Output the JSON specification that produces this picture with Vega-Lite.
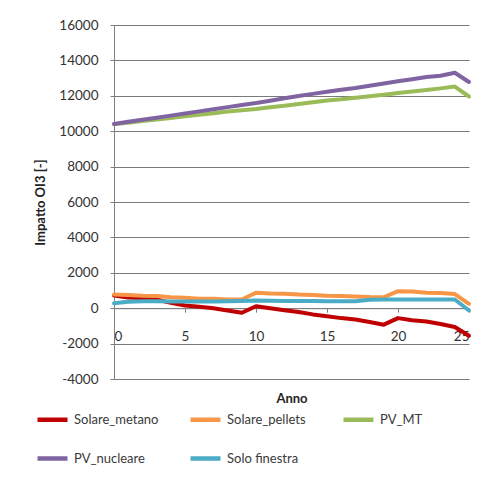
{
  "$schema": "https://vega.github.io/schema/vega-lite/v6.json",
  "autosize": {"type": "none"},
  "padding": {"left": 114, "top": 25, "right": 22, "bottom": 106},
  "width": 355,
  "height": 354,
  "background": "white",
  "data": {
    "values": [
      {"Anno": 0, "Solare_metano": 710, "Solare_pellets": 770, "PV_MT": 10400, "PV_nucleare": 10410, "Solo finestra": 280},
      {"Anno": 1, "Solare_metano": 600, "Solare_pellets": 750, "PV_MT": 10480, "PV_nucleare": 10530, "Solo finestra": 360},
      {"Anno": 2, "Solare_metano": 560, "Solare_pellets": 700, "PV_MT": 10570, "PV_nucleare": 10650, "Solo finestra": 390},
      {"Anno": 3, "Solare_metano": 490, "Solare_pellets": 690, "PV_MT": 10660, "PV_nucleare": 10760, "Solo finestra": 390},
      {"Anno": 4, "Solare_metano": 300, "Solare_pellets": 620, "PV_MT": 10750, "PV_nucleare": 10880, "Solo finestra": 380},
      {"Anno": 5, "Solare_metano": 150, "Solare_pellets": 590, "PV_MT": 10840, "PV_nucleare": 11000, "Solo finestra": 380},
      {"Anno": 6, "Solare_metano": 80, "Solare_pellets": 540, "PV_MT": 10930, "PV_nucleare": 11120, "Solo finestra": 380},
      {"Anno": 7, "Solare_metano": 0, "Solare_pellets": 540, "PV_MT": 11020, "PV_nucleare": 11240, "Solo finestra": 380},
      {"Anno": 8, "Solare_metano": -130, "Solare_pellets": 490, "PV_MT": 11110, "PV_nucleare": 11360, "Solo finestra": 390},
      {"Anno": 9, "Solare_metano": -260, "Solare_pellets": 490, "PV_MT": 11190, "PV_nucleare": 11480, "Solo finestra": 410},
      {"Anno": 10, "Solare_metano": 110, "Solare_pellets": 870, "PV_MT": 11260, "PV_nucleare": 11590, "Solo finestra": 430},
      {"Anno": 11, "Solare_metano": 0, "Solare_pellets": 830, "PV_MT": 11350, "PV_nucleare": 11720, "Solo finestra": 420},
      {"Anno": 12, "Solare_metano": -110, "Solare_pellets": 820, "PV_MT": 11440, "PV_nucleare": 11860, "Solo finestra": 410},
      {"Anno": 13, "Solare_metano": -220, "Solare_pellets": 770, "PV_MT": 11540, "PV_nucleare": 11990, "Solo finestra": 410},
      {"Anno": 14, "Solare_metano": -350, "Solare_pellets": 750, "PV_MT": 11640, "PV_nucleare": 12110, "Solo finestra": 400},
      {"Anno": 15, "Solare_metano": -450, "Solare_pellets": 710, "PV_MT": 11730, "PV_nucleare": 12230, "Solo finestra": 390},
      {"Anno": 16, "Solare_metano": -560, "Solare_pellets": 690, "PV_MT": 11800, "PV_nucleare": 12340, "Solo finestra": 390},
      {"Anno": 17, "Solare_metano": -640, "Solare_pellets": 660, "PV_MT": 11890, "PV_nucleare": 12440, "Solo finestra": 390},
      {"Anno": 18, "Solare_metano": -780, "Solare_pellets": 630, "PV_MT": 11970, "PV_nucleare": 12570, "Solo finestra": 480},
      {"Anno": 19, "Solare_metano": -930, "Solare_pellets": 620, "PV_MT": 12060, "PV_nucleare": 12690, "Solo finestra": 490},
      {"Anno": 20, "Solare_metano": -560, "Solare_pellets": 960, "PV_MT": 12160, "PV_nucleare": 12820, "Solo finestra": 490},
      {"Anno": 21, "Solare_metano": -680, "Solare_pellets": 950, "PV_MT": 12240, "PV_nucleare": 12940, "Solo finestra": 490},
      {"Anno": 22, "Solare_metano": -750, "Solare_pellets": 870, "PV_MT": 12330, "PV_nucleare": 13060, "Solo finestra": 490},
      {"Anno": 23, "Solare_metano": -890, "Solare_pellets": 860, "PV_MT": 12420, "PV_nucleare": 13130, "Solo finestra": 490},
      {"Anno": 24, "Solare_metano": -1060, "Solare_pellets": 800, "PV_MT": 12520, "PV_nucleare": 13300, "Solo finestra": 490},
      {"Anno": 25, "Solare_metano": -1560, "Solare_pellets": 250, "PV_MT": 11960, "PV_nucleare": 12780, "Solo finestra": -130}
    ]
  },
  "transform": [
    {"fold": ["Solare_metano", "Solare_pellets", "PV_MT", "PV_nucleare", "Solo finestra"], "as": ["serie", "valore"]}
  ],
  "mark": {"type": "line", "strokeWidth": 4, "strokeJoin": "round", "strokeCap": "round", "clip": false},
  "encoding": {
    "x": {
      "field": "Anno", "type": "quantitative",
      "scale": {"domain": [0, 25], "nice": false, "zero": false},
      "axis": {
        "title": "Anno", "values": [0, 5, 10, 15, 20, 25], "grid": false,
        "offset": -70.8, "tickSize": 4, "labelPadding": 17,
        "domain": true, "domainColor": "#808080", "domainWidth": 1, "tickColor": "#808080", "tickWidth": 1,
        "titleY": 90, "titleBaseline": "middle"
      }
    },
    "y": {
      "field": "valore", "type": "quantitative",
      "scale": {"domain": [-4000, 16000], "nice": false, "zero": false},
      "axis": {
        "title": "Impatto OI3 [-]", "values": [-4000, -2000, 0, 2000, 4000, 6000, 8000, 10000, 12000, 14000, 16000],
        "labelExpr": "toString(datum.value)", "grid": true, "gridColor": "#7a7a7a", "gridWidth": 1, "gridOpacity": 1,
        "tickSize": 4, "tickWidth": 1, "labelPadding": 12,
        "domainColor": "#808080", "tickColor": "#808080",
        "titleX": -74, "titleY": 177, "titleAlign": "center", "titleBaseline": "middle", "titleAngle": -90
      }
    },
    "color": {
      "field": "serie", "type": "nominal",
      "scale": {
        "domain": ["Solare_metano", "Solare_pellets", "PV_MT", "PV_nucleare", "Solo finestra"],
        "range": ["#C00000", "#F79646", "#9BBB59", "#8064A2", "#4BACC6"]
      },
      "legend": {
        "title": null, "orient": "none", "legendX": -79, "legendY": 377,
        "direction": "horizontal", "columns": 3, "gridAlign": "all",
        "columnPadding": 22, "rowPadding": 12,
        "symbolType": "stroke", "symbolSize": 900, "symbolStrokeWidth": 4.5,
        "labelOffset": 4, "labelFontSize": 13, "labelColor": "#3a3a3a", "labelFont": "Lato"
      }
    },
    "order": {"field": "Anno"}
  },
  "config": {
    "font": "Lato",
    "view": {"stroke": null},
    "axis": {
      "labelFont": "Lato", "labelFontSize": 13.5, "labelColor": "#333333",
      "titleFont": "Lato", "titleFontSize": 13, "titleFontWeight": "bold", "titleColor": "#222222"
    }
  }
}
